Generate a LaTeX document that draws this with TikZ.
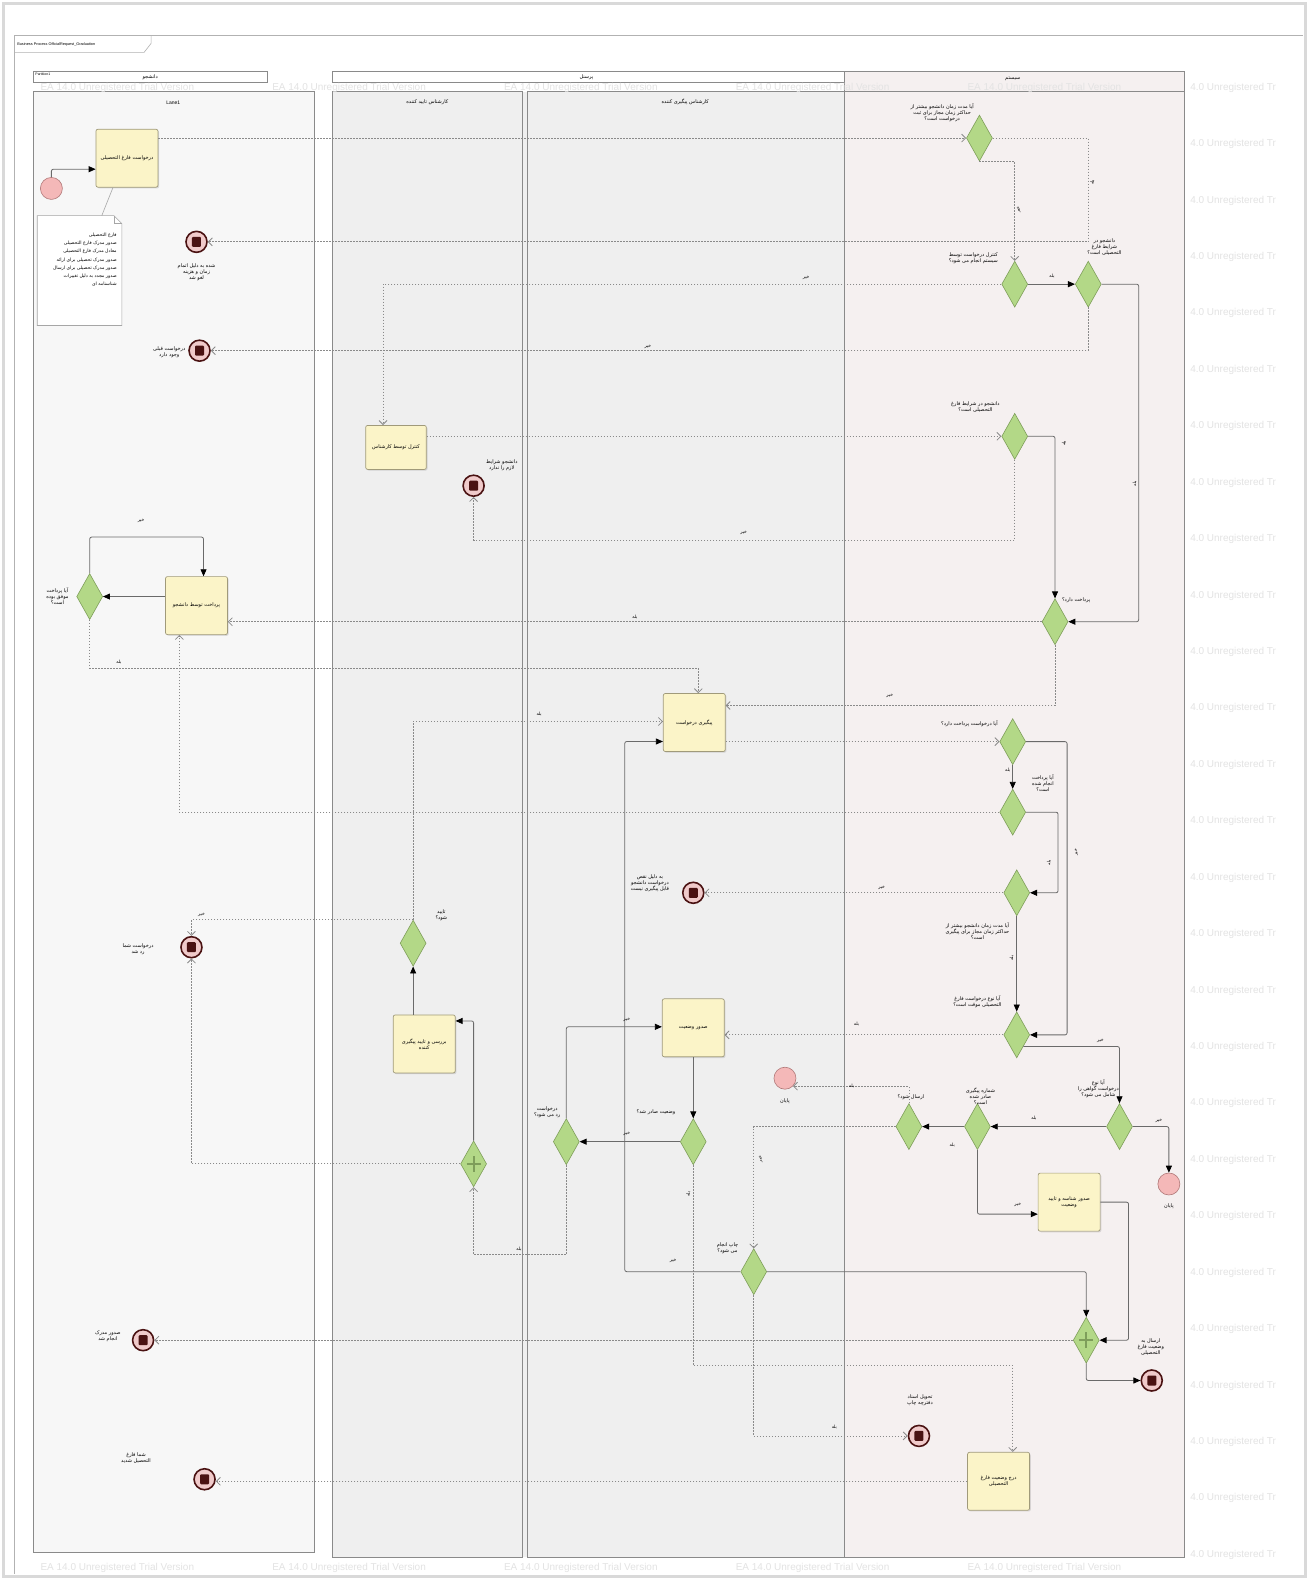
\documentclass[tikz,border=0pt]{standalone}
\usepackage{fontspec}
\setmainfont{Liberation Sans}
\newfontfamily\arfont[Script=Arabic]{DejaVu Sans}
\TeXXeTstate=1
\usetikzlibrary{shapes.geometric,arrows.meta,shadows,calc}
\newcommand\fatxt[1]{{\arfont\beginR #1\endR}}
\definecolor{taskfill}{HTML}{FBF4C8}
\definecolor{taskdraw}{HTML}{A09A7A}
\definecolor{gwfill}{HTML}{B3D887}
\definecolor{gwdraw}{HTML}{7E9E5A}
\definecolor{seqc}{HTML}{6A6A6A}
\definecolor{msgc}{HTML}{8A8A8A}
\definecolor{evpink}{HTML}{F4B8B8}
\definecolor{startdraw}{HTML}{B07878}
\definecolor{evring}{HTML}{F0CACA}
\definecolor{evdark}{HTML}{4A1212}
\definecolor{lanebg}{HTML}{F7F7F7}
\definecolor{persbg}{HTML}{EFEFEF}
\definecolor{sysbg}{HTML}{F5F0F0}
\definecolor{lanedraw}{HTML}{8A8A8A}
\begin{document}
\begin{tikzpicture}[x=1.0077pt,y=-1.0077pt,
 txt/.style={font=\fontsize{5}{6}\selectfont, inner sep=1pt, align=center},
 lbl/.style={font=\fontsize{4.5}{5}\selectfont, inner sep=0.5pt},
 task/.style={rectangle, rounded corners=2pt, draw=taskdraw, fill=taskfill, line width=0.7pt,
   minimum width=62pt, minimum height=58pt, text width=54pt, align=center,
   font=\fontsize{5}{6}\selectfont,
   drop shadow={opacity=0.25,shadow xshift=1.2pt,shadow yshift=-1.2pt}},
 gw/.style={diamond, draw=gwdraw, fill=gwfill, line width=0.6pt, minimum width=26pt, minimum height=46pt, inner sep=0pt},
 pgw/.style={gw, path picture={
   \draw[line width=2.2pt] ([yshift=-8pt]path picture bounding box.center) -- ([yshift=8pt]path picture bounding box.center);
   \draw[line width=2.2pt] ([xshift=-7pt]path picture bounding box.center) -- ([xshift=7pt]path picture bounding box.center);}},
 startev/.style={circle, draw=startdraw, fill=evpink, line width=0.6pt, minimum size=22pt, inner sep=0pt},
 endev/.style={circle, draw=evdark, fill=evring, line width=1.6pt, minimum size=21pt, inner sep=0pt,
   path picture={\fill[evdark, rounded corners=1pt] ([xshift=-4.5pt,yshift=-5pt]path picture bounding box.center) rectangle ([xshift=4.5pt,yshift=5pt]path picture bounding box.center);}},
 seq/.style={draw=seqc, line width=0.8pt, rounded corners=2pt, -{Triangle[length=7pt,width=6pt,color=black]}},
 msg/.style={draw=msgc, line width=0.8pt, dash pattern=on 1.6pt off 1.4pt, -{Straight Barb[length=4pt,width=8pt]}},
 lane/.style={draw=lanedraw, line width=0.6pt},
 wm/.style={text=gray!22, font=\fontsize{10}{12}\selectfont, inner sep=0pt, anchor=west}
]
\useasboundingbox (0,0) rectangle (1299,1568);
\fill[white] (0,0) rectangle (1299,1568);
\draw[gray!30, line width=3pt] (3,3) rectangle (1296,1565);

% diagram frame
\draw[gray!60, line width=0.6pt] (14,1562) -- (14,35) -- (1293,35);
\draw[gray!60, line width=0.6pt] (14,52) -- (143,52) -- (150,43) -- (150,35);
\node[font=\fontsize{3.8}{4}\selectfont, anchor=west, inner sep=0pt] (ttl) at (17,44) {Business Process OfficialRequest\_Graduation};

% student pool
\fill[lanebg] (33,91) rectangle (312,1540);
\draw[lane] (33,71) rectangle (265,82);
\draw[lane] (33,91) rectangle (312,1540);
\node[txt] (pS) at (149,77) {\fatxt{دانشجو}};
\node[font=\fontsize{3.5}{4}\selectfont, anchor=west, inner sep=0pt] (part) at (35,74) {Partition1};
\node[txt] (l1) at (172,102) {Lane1};

% personnel pool
\fill[persbg] (330,91) rectangle (838,1545);
\draw[lane] (330,71) rectangle (838,82);
\draw[lane] (330,91) rectangle (518,1545);
\draw[lane] (523,91) rectangle (838,1545);
\node[txt] (pP) at (582,77) {\fatxt{پرسنل}};
\node[txt] (lP1) at (424,101) {\fatxt{کارشناس تایید کننده}};
\node[txt] (lP2) at (680,101) {\fatxt{کارشناس پیگیری کننده}};

% system lane
\fill[sysbg] (838,71) rectangle (1175,1545);
\draw[lane] (838,71) rectangle (1175,1545);
\draw[lane] (838,91) -- (1175,91);
\node[txt] (pY) at (1005,78) {\fatxt{سیستم}};

% watermarks
\foreach \yy in {87,143,...,1545} \node[wm] (wmr\yy) at (1181,\yy) {4.0 Unregistered Tr};
\foreach \xx in {40,270,...,960} {
  \node[wm] (wmt\xx) at (\xx,87) {EA 14.0 Unregistered Trial Version};
  \node[wm] (wmb\xx) at (\xx,1556) {EA 14.0 Unregistered Trial Version};}

% ---------------- nodes ----------------
\node[startev] (start) at (51,187) {};
\node[task] (A1) at (126,157) {\fatxt{درخواست فارغ التحصیلی}};
\draw[gray!70, fill=white, line width=0.6pt] (37,214) -- (113,214) -- (121,222) -- (121,323) -- (37,323) -- cycle;
\draw[gray!70, line width=0.5pt] (113,214) -- (113,222) -- (121,222);
\coordinate (nt) at (101,214);
\node[font=\fontsize{4.6}{8.2}\selectfont, anchor=north east, align=right, inner sep=0pt] (notet) at (116,231)
 {\fatxt{فارغ التحصیلی}\\\fatxt{صدور مدرک فارغ التحصیلی}\\\fatxt{معادل مدرک فارغ التحصیلی}\\\fatxt{صدور مدرک تحصیلی برای ارائه}\\\fatxt{صدور مدرک تحصیلی برای ارسال}\\\fatxt{صدور مجدد به دلیل تغییرات}\\\fatxt{شناسنامه ای}};

\node[endev] (E1) at (195,240) {};
\node[txt] (E1t) at (195,270) {\fatxt{شده به دلیل اتمام}\\\fatxt{زمان و هزینه}\\\fatxt{لغو شد}};
\node[endev] (E2) at (198,348) {};
\node[txt] (E2t) at (168,350) {\fatxt{درخواست قبلی}\\\fatxt{وجود دارد}};
\node[task, minimum width=58pt, minimum height=44pt] (A3) at (393,444) {\fatxt{کنترل توسط کارشناس}};
\node[endev] (E3) at (470,482) {};
\node[txt] (E3t) at (498,462) {\fatxt{دانشجو شرایط}\\\fatxt{لازم را ندارد}};
\node[task] (A4) at (195,601) {\fatxt{پرداخت توسط دانشجو}};
\node[gw] (D6) at (89,592) {};
\node[txt] (D6t) at (57,592) {\fatxt{آیا پرداخت}\\\fatxt{موفق بوده}\\\fatxt{است؟}};
\node[task] (A5) at (689,717) {\fatxt{پیگیری درخواست}};
\node[endev] (E4) at (688,886) {};
\node[txt] (E4t) at (645,876) {\fatxt{به دلیل نقص}\\\fatxt{درخواست دانشجو}\\\fatxt{قابل پیگیری نیست}};
\node[task] (A6) at (688,1020) {\fatxt{صدور وضعیت}};
\node[gw] (D15) at (688,1133) {};
\node[txt] (D15t) at (651,1104) {\fatxt{وضعیت صادر شد؟}};
\node[gw] (D16) at (562,1133) {};
\node[txt] (D16t) at (543,1104) {\fatxt{درخواست}\\\fatxt{رد می شود؟}};
\node[pgw] (X1) at (470,1155) {};
\node[task] (A9) at (421,1036) {\fatxt{بررسی و تایید پیگیری}\\\fatxt{کننده}};
\node[gw] (D8) at (410,936) {};
\node[txt] (D8t) at (438,908) {\fatxt{تایید}\\\fatxt{شود؟}};
\node[endev] (E6) at (190,940) {};
\node[txt] (E6t) at (137,942) {\fatxt{درخواست شما}\\\fatxt{رد شد}};
\node[endev] (E7) at (142,1330) {};
\node[txt] (E7t) at (107,1326) {\fatxt{صدور مدرک}\\\fatxt{انجام شد}};
\node[endev] (E9) at (203,1468) {};
\node[txt] (E9t) at (135,1447) {\fatxt{شما فارغ}\\\fatxt{التحصیل شدید}};

\node[gw] (D1) at (972,137) {};
\node[txt] (D1t) at (935,112) {\fatxt{آیا مدت زمان دانشجو بیشتر از}\\\fatxt{حداکثر زمان مجاز برای ثبت}\\\fatxt{درخواست است؟}};
\node[gw] (D2) at (1007,282) {};
\node[txt] (D2t) at (966,256) {\fatxt{کنترل درخواست توسط}\\\fatxt{سیستم انجام می شود؟}};
\node[gw] (D3) at (1080,282) {};
\node[txt] (D3t) at (1096,245) {\fatxt{دانشجو در}\\\fatxt{شرایط فارغ}\\\fatxt{التحصیلی است؟}};
\node[gw] (D4) at (1007,433) {};
\node[txt] (D4t) at (968,404) {\fatxt{دانشجو در شرایط فارغ}\\\fatxt{التحصیلی است؟}};
\node[gw] (D5) at (1047,617) {};
\node[txt] (D5t) at (1068,596) {\fatxt{پرداخت دارد؟}};
\node[gw] (D7) at (1005,736) {};
\node[txt] (D7t) at (962,718) {\fatxt{آیا درخواست پرداخت دارد؟}};
\node[gw] (D8b) at (1005,806) {};
\node[txt] (D8bt) at (1035,777) {\fatxt{آیا پرداخت}\\\fatxt{انجام شده}\\\fatxt{است؟}};
\node[gw] (D9) at (1009,886) {};
\node[txt] (D9t) at (970,924) {\fatxt{آیا مدت زمان دانشجو بیشتر از}\\\fatxt{حداکثر زمان مجاز برای پیگیری}\\\fatxt{است؟}};
\node[gw] (D10) at (1009,1027) {};
\node[txt] (D10t) at (970,994) {\fatxt{آیا نوع درخواست فارغ}\\\fatxt{التحصیلی موقت است؟}};
\node[gw] (D11) at (1111,1118) {};
\node[txt] (D11t) at (1090,1080) {\fatxt{آیا نوع}\\\fatxt{درخواست گواهی را}\\\fatxt{شامل می شود؟}};
\node[gw] (D12) at (970,1118) {};
\node[txt] (D12t) at (973,1088) {\fatxt{شماره پیگیری}\\\fatxt{صادر شده}\\\fatxt{است؟}};
\node[gw] (D13) at (902,1118) {};
\node[txt] (D13t) at (904,1089) {\fatxt{ارسال شود؟}};
\node[startev] (start2) at (779,1070) {};
\node[txt] (start2t) at (779,1093) {\fatxt{پایان}};
\node[startev] (start3) at (1160,1175) {};
\node[txt] (start3t) at (1160,1197) {\fatxt{پایان}};
\node[task] (A7) at (1061,1193) {\fatxt{صدور شناسه و تایید}\\\fatxt{وضعیت}};
\node[gw] (D14) at (748,1262) {};
\node[txt] (D14t) at (722,1239) {\fatxt{چاپ انجام}\\\fatxt{می شود؟}};
\node[pgw] (X2) at (1078,1330) {};
\node[endev] (E8) at (1143,1370) {};
\node[txt] (E8t) at (1142,1337) {\fatxt{ارسال به}\\\fatxt{وضعیت فارغ}\\\fatxt{التحصیلی}};
\node[endev] (E5) at (912,1425) {};
\node[txt] (E5t) at (913,1390) {\fatxt{تحویل اسناد}\\\fatxt{دفترچه چاپ}};
\node[task] (A8) at (991,1470) {\fatxt{درج وضعیت فارغ}\\\fatxt{التحصیلی}};

% ---------------- connectors ----------------
\coordinate (b1) at (1080,200);
\coordinate (b3) at (1130,400);
\coordinate (b11) at (1007,536);
\coordinate (b15) at (202,533);
\coordinate (b16) at (693,663);
\coordinate (b18) at (620,1262);
\coordinate (b21) at (1059,900);
\coordinate (b22) at (178,806);
\coordinate (b23) at (1050,850);
\coordinate (b38) at (1005,1355);
\coordinate (b40) at (562,1245);
\coordinate (b45) at (1120,1260);

\draw[seq] (start.north) |- ([yshift=-11pt]A1.west);
\draw[gray!70, line width=0.6pt] (nt) -- ([xshift=-14pt]A1.south);
\draw[msg] (A1.east |- D1.west) -- (D1.west);
\draw[msg] (D1.east) -| (b1) |- (E1.east);
\draw[msg] (D1.south) -| (D2.north);
\draw[seq] (D2.east) -- (D3.west);
\draw[msg] (D2.west) -| ([xshift=-13pt]A3.north);
\draw[seq] (D3.east) -| (b3) |- (D5.east);
\draw[msg] (D3.south) |- (E2.east);
\draw[msg] (A3.east |- D4.west) -- (D4.west);
\draw[seq] (D4.east) -| (D5.north);
\draw[msg] (D4.south) -- (b11) -| (E3.south);
\draw[msg] (D5.west) -- (D5.west -| A4.east);
\draw[msg] (D5.south) |- ([yshift=17pt]A5.east);
\draw[seq] (A4.west |- D6.east) -- (D6.east);
\draw[seq] (D6.north) |- (b15) -- (b15 |- A4.north);
\draw[msg] (D6.south) |- (b16) -- (b16 |- A5.north);
\draw[msg] (D8.north) |- ([yshift=1pt]A5.west);
\draw[seq] (D14.west) -- (b18) |- ([yshift=-19pt]A5.west);
\draw[msg] (D7.west -| A5.east) -- (D7.west);
\draw[seq] (D7.south) -- (D8b.north);
\draw[seq] (D7.east) -| (b21) |- (D10.east);
\draw[msg] (D8b.west) -- (b22) -- (b22 |- A4.south);
\draw[seq] (D8b.east) -| (b23) |- (D9.east);
\draw[msg] (D9.west) -- (D9.west -| E4.east);
\draw[seq] (D9.south) -- (D10.north);
\draw[msg] (D10.west) -- (D10.west -| A6.east);
\draw[seq] (D10.south east) -| (D11.north);
\draw[seq] (D11.west) -- (D12.east);
\draw[seq] (D11.east) -| (start3.north);
\draw[seq] (D12.west) -- (D13.east);
\draw[seq] (D12.south) |- ([yshift=-12pt]A7.west);
\draw[msg] (D13.north) |- (start2.south east);
\draw[msg] (D13.west) -| (D14.north);
\draw[msg] (D14.south) |- (E5.west);
\draw[seq] (D14.east) -| (X2.north);
\draw[seq] (A6.south) -- (D15.north);
\draw[seq] (D15.west) -- (D16.east);
\draw[msg] (D15.south) |- (b38) -- (b38 |- A8.north);
\draw[seq] (D16.north) |- ([yshift=1pt]A6.west);
\draw[msg] (D16.south) -- (b40) -| (X1.south);
\draw[msg] (X1.west) -| (E6.south);
\draw[seq] (X1.north) |- ([yshift=23pt]A9.east);
\draw[seq] (A9.north -| D8.south) -- (D8.south);
\draw[msg] (D8.north) -| (E6.north);
\draw[seq] (A7.east) -| (b45) |- (X2.east);
\draw[msg] (X2.west) -- (X2.west -| E7.east);
\draw[seq] (X2.south) |- (E8.west);
\draw[msg] (A8.west) -- (A8.west -| E9.east);

% ---------------- flow labels ----------------
\node[lbl, rotate=90] (L1) at (1084,181) {\fatxt{بله}};
\node[lbl, rotate=90] (L2) at (1011,208) {\fatxt{خیر}};
\node[lbl] (L3) at (1044,274) {\fatxt{بله}};
\node[lbl] (L4) at (800,276) {\fatxt{خیر}};
\node[lbl, rotate=90] (L5) at (1126,480) {\fatxt{بله}};
\node[lbl] (L6) at (643,344) {\fatxt{خیر}};
\node[lbl, rotate=90] (L7) at (1056,440) {\fatxt{بله}};
\node[lbl] (L8) at (738,529) {\fatxt{خیر}};
\node[lbl] (L9) at (630,612) {\fatxt{بله}};
\node[lbl] (L10) at (883,691) {\fatxt{خیر}};
\node[lbl] (L11) at (140,517) {\fatxt{خیر}};
\node[lbl] (L12) at (118,657) {\fatxt{بله}};
\node[lbl] (L13) at (535,709) {\fatxt{بله}};
\node[lbl] (L14) at (668,1251) {\fatxt{خیر}};
\node[lbl] (L15) at (1000,764) {\fatxt{بله}};
\node[lbl, rotate=90] (L16) at (1068,846) {\fatxt{خیر}};
\node[lbl, rotate=90] (L17) at (1041,856) {\fatxt{بله}};
\node[lbl] (L18) at (875,881) {\fatxt{خیر}};
\node[lbl, rotate=90] (L19) at (1004,951) {\fatxt{بله}};
\node[lbl] (L20) at (850,1016) {\fatxt{بله}};
\node[lbl] (L21) at (1092,1033) {\fatxt{خیر}};
\node[lbl] (L22) at (1026,1110) {\fatxt{بله}};
\node[lbl] (L23) at (1150,1112) {\fatxt{خیر}};
\node[lbl] (L24) at (945,1136) {\fatxt{بله}};
\node[lbl] (L25) at (1010,1196) {\fatxt{خیر}};
\node[lbl] (L26) at (845,1078) {\fatxt{بله}};
\node[lbl, rotate=90] (L27) at (755,1150) {\fatxt{خیر}};
\node[lbl] (L28) at (828,1416) {\fatxt{بله}};
\node[lbl] (L29) at (622,1125) {\fatxt{خیر}};
\node[lbl, rotate=90] (L30) at (683,1185) {\fatxt{بله}};
\node[lbl] (L31) at (622,1012) {\fatxt{خیر}};
\node[lbl] (L32) at (515,1240) {\fatxt{بله}};
\node[lbl] (L33) at (200,908) {\fatxt{خیر}};
\end{tikzpicture}
\end{document}
